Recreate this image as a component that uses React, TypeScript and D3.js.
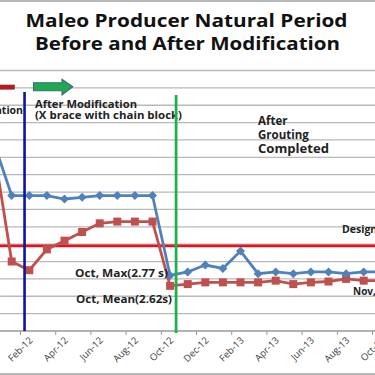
import React from "react";
import * as d3 from "d3";

const months = [
  "Dec-11", "Jan-12", "Feb-12", "Mar-12", "Apr-12", "May-12", "Jun-12", "Jul-12", "Aug-12", "Sep-12",
  "Oct-12", "Nov-12", "Dec-12", "Jan-13", "Feb-13", "Mar-13", "Apr-13", "May-13", "Jun-13", "Jul-13",
  "Aug-13", "Sep-13", "Oct-13",
];
const maxPeriod = [
  3.38, 3.08, 3.08, 3.08, 3.06, 3.07, 3.08, 3.08, 3.08, 3.08,
  2.62, 2.64, 2.68, 2.66, 2.76, 2.63, 2.64, 2.63, 2.64, 2.64,
  2.63, 2.64, 2.64,
];
const meanPeriod = [
  3.34, 2.7, 2.65, 2.77, 2.82, 2.87, 2.92, 2.93, 2.93, 2.93,
  2.56, 2.57, 2.58, 2.58, 2.58, 2.58, 2.59, 2.57, 2.58, 2.585,
  2.6, 2.59, 2.59,
];
const designLimit = 2.79;
const yTicks = d3.range(2.3, 3.8001, 0.1);

const W = 375;
const H = 375;
const FONT = "'Open Sans', Lato, sans-serif";

export default function App() {
  const x = d3.scaleBand<string>().domain(months).range([-14.7, -14.7 + months.length * 17.6]).paddingInner(0).paddingOuter(0);
  const step = x.step();
  const cx = (m: string) => (x(m) as number) + step / 2;
  const y = d3.scaleLinear().domain([2.3, 3.8]).range([331, 70.5]);

  const line = d3.line<number>().x((_, i) => cx(months[i])).y((d) => y(d));

  const tickIdx = months.map((_, i) => i).filter((i) => i % 2 === 0);
  const blueX = cx("Feb-12") - 0.27 * step;
  const greenX = cx("Oct-12") + 0.34 * step;

  return (
    <svg width={W} height={H} style={{ position: "absolute", left: 0, top: 0, background: "#fff" }}>
      <rect x={0} y={0} width={W} height={H} fill="#fff" />
      <line x1={0} x2={W} y1={1} y2={1} stroke="#a0a0a0" strokeWidth={1.3} />
      <line x1={0} x2={W} y1={374} y2={374} stroke="#a0a0a0" strokeWidth={1.3} />
      <text x={186.5} y={27} textAnchor="middle" fontFamily={FONT} fontWeight={700} fontSize={17} fill="#111" textLength={322} lengthAdjust="spacingAndGlyphs">
        Maleo Producer Natural Period
      </text>
      <text x={187.5} y={49.5} textAnchor="middle" fontFamily={FONT} fontWeight={700} fontSize={17} fill="#111" textLength={305} lengthAdjust="spacingAndGlyphs">
        Before and After Modification
      </text>

      {/* grid */}
      {yTicks.map((t, i) => (
        <line key={i} x1={0} x2={W} y1={y(t)} y2={y(t)} stroke={i === 0 ? "#9a9a9a" : "#b9b9b9"} strokeWidth={1.3} />
      ))}
      {/* x ticks */}
      {tickIdx.map((i) => (
        <line key={i} x1={x(months[i]) as number} x2={x(months[i]) as number} y1={331} y2={335} stroke="#9a9a9a" strokeWidth={1} />
      ))}
      {tickIdx.map((i) => (
        <text
          key={"l" + i}
          transform={`translate(${cx(months[i]) + 4},${341}) rotate(-45)`}
          textAnchor="end"
          fontFamily={FONT}
          fontSize={9.5}
          fill="#404040"
        >
          {months[i]}
        </text>
      ))}

      {/* design line */}
      <line x1={0} x2={W} y1={y(designLimit)} y2={y(designLimit)} stroke="#e3121b" strokeWidth={2.6} />

      {/* series */}
      <path d={line(meanPeriod) || ""} fill="none" stroke="#c0504d" strokeWidth={2.8} />
      {meanPeriod.map((v, i) => (
        <rect key={"r" + i} x={cx(months[i]) - 4} y={y(v) - 4} width={8} height={8} fill="#c0504d" />
      ))}
      <path d={line(maxPeriod) || ""} fill="none" stroke="#4f81bd" strokeWidth={2.8} />
      {maxPeriod.map((v, i) => (
        <path key={"b" + i} d={`M${cx(months[i])},${y(v) - 4.5}l4.5,4.5l-4.5,4.5l-4.5,-4.5z`} fill="#4f81bd" />
      ))}

      {/* annotations text */}
      <text x={23} y={114} textAnchor="end" fontFamily={FONT} fontWeight={700} fontSize={10.5} fill="#222">
        Before Modification
      </text>
      <text x={35} y={107.5} fontFamily={FONT} fontWeight={700} fontSize={10.5} fill="#222" textLength={102} lengthAdjust="spacingAndGlyphs">
        After Modification
      </text>
      <text x={35} y={119} fontFamily={FONT} fontWeight={700} fontSize={10.5} fill="#222" textLength={147} lengthAdjust="spacingAndGlyphs">
        (X brace with chain  block)
      </text>
      <text x={258} y={124.5} fontFamily={FONT} fontWeight={700} fontSize={11.5} fill="#222">After</text>
      <text x={258} y={138.5} fontFamily={FONT} fontWeight={700} fontSize={11.5} fill="#222">Grouting</text>
      <text x={258} y={152.5} fontFamily={FONT} fontWeight={700} fontSize={11.5} fill="#222" textLength={71} lengthAdjust="spacingAndGlyphs">Completed</text>
      <text x={342} y={233} fontFamily={FONT} fontWeight={700} fontSize={10.5} fill="#222">Design Limit</text>
      <text x={75} y={277} fontFamily={FONT} fontWeight={700} fontSize={10} fill="#222" textLength={93} lengthAdjust="spacingAndGlyphs">Oct, Max(2.77 s)</text>
      <text x={76} y={302.5} fontFamily={FONT} fontWeight={700} fontSize={10} fill="#222" textLength={96} lengthAdjust="spacingAndGlyphs">Oct, Mean(2.62s)</text>
      <text x={353} y={295} fontFamily={FONT} fontWeight={700} fontSize={10} fill="#222">Nov, Max</text>

      {/* vertical markers */}
      <line x1={blueX} x2={blueX} y1={92} y2={331} stroke="#0b159e" strokeWidth={2.6} />
      <line x1={greenX} x2={greenX} y1={95} y2={333} stroke="#1fb150" strokeWidth={2.8} />

      {/* arrows */}
      <rect x={-2} y={85} width={16.5} height={4.2} fill="#c0171f" stroke="#7d2a2a" strokeWidth={0.6} />
      <path d="M33.5,82.8 L62,82.8 L62,79.3 L72.8,86.8 L62,94.8 L62,90.8 L33.5,90.8 Z" fill="#1faa4e" stroke="#3c6584" strokeWidth={1.1} />
    </svg>
  );
}
